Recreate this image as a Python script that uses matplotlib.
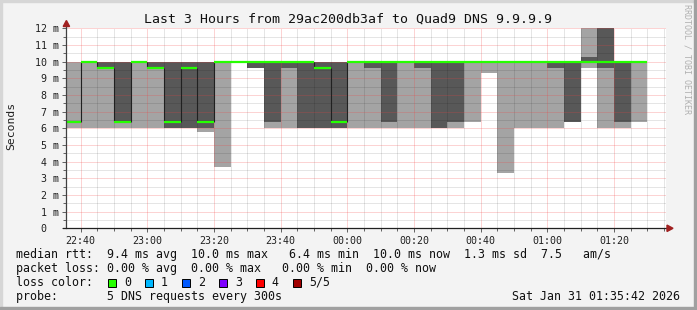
import numpy as np
import matplotlib.pyplot as plt
from matplotlib.patches import Rectangle, Polygon

# 5-minute slots (start time), sorted pings per slot in ms
slots = ["22:35", "22:40", "22:45", "22:50", "22:55", "23:00", "23:05", "23:10",
         "23:15", "23:20", "23:25", "23:30", "23:35", "23:40", "23:45", "23:50",
         "23:55", "00:00", "00:05", "00:10", "00:15", "00:20", "00:25", "00:30",
         "00:35", "00:40", "00:45", "00:50", "00:55", "01:00", "01:05", "01:10",
         "01:15", "01:20", "01:25"]
ping1 = [6.0, 6.0, 6.0, 6.0, 6.0, 6.0, 6.0, 6.0, 5.75, 3.7, 10.0, 9.6, 6.0, 6.0, 6.0, 6.0,
         6.0, 6.0, 6.0, 6.0, 6.0, 6.0, 6.0, 6.0, 6.4, 9.3, 3.3, 6.0, 6.0, 6.0, 6.4, 9.6,
         6.0, 6.0, 6.4]
ping2 = [6.4, 10.0, 9.6, 6.4, 10.0, 9.6, 6.0, 6.0, 6.0, 10.0, 10.0, 9.6, 6.4, 9.6, 6.0, 6.0,
         6.0, 10.0, 9.6, 6.4, 10.0, 9.6, 6.0, 6.4, 10.0, 10.0, 10.0, 10.0, 10.0, 9.6, 6.4, 10.0,
         9.6, 6.4, 10.0]
median = [6.4, 10.0, 9.6, 6.4, 10.0, 9.6, 6.4, 9.6, 6.4, 10.0, 10.0, 10.0, 10.0, 10.0, 10.0, 9.6,
          6.4, 10.0, 10.0, 10.0, 10.0, 10.0, 10.0, 10.0, 10.0, 10.0, 10.0, 10.0, 10.0, 10.0, 10.0, 10.0,
          10.0, 10.0, 10.0]
ping4 = [6.4, 10.0, 10.0, 10.0, 10.0, 10.0, 10.0, 10.0, 10.0, 10.0, 10.0, 10.0, 10.0, 10.0, 10.0, 10.0,
         10.0, 10.0, 10.0, 10.0, 10.0, 10.0, 10.0, 10.0, 10.0, 10.0, 10.0, 10.0, 10.0, 10.0, 10.0, 10.3,
         12.5, 10.0, 10.0]
ping5 = [10.0, 10.0, 10.0, 10.0, 10.0, 10.0, 10.0, 10.0, 10.0, 10.0, 10.0, 10.0, 10.0, 10.0, 10.0, 10.0,
         10.0, 10.0, 10.0, 10.0, 10.0, 10.0, 10.0, 10.0, 10.0, 10.0, 10.0, 10.0, 10.0, 10.0, 10.0, 12.5,
         12.5, 10.0, 10.0]

tick_times = ["22:40", "23:00", "23:20", "23:40", "00:00", "00:20", "00:40", "01:00", "01:20"]
loss_labels = ["0", "1", "2", "3", "4", "5/5"]
loss_colors = ["#26ff00", "#00b8ff", "#0059ff", "#7e00ff", "#ff0000", "#a00000"]

title = "Last 3 Hours from 29ac200db3af to Quad9 DNS 9.9.9.9"
line_rtt = "median rtt:  9.4 ms avg  10.0 ms max   6.4 ms min  10.0 ms now  1.3 ms sd  7.5   am/s"
line_loss = "packet loss: 0.00 % avg  0.00 % max   0.00 % min  0.00 % now"
line_probe = "probe:       5 DNS requests every 300s"
stamp = "Sat Jan 31 01:35:42 2026"


def minutes(s):
    h, m = map(int, s.split(":"))
    v = h * 60 + m - 22 * 60
    if h < 12:
        v += 24 * 60
    return v


t = np.array([minutes(s) for s in slots], dtype=float)
p1, p2, p3, p4, p5 = (np.array(a) for a in (ping1, ping2, median, ping4, ping5))
x_start = 35.7
x_end = 215.7

W, H = 697, 310
MONO = "DejaVu Sans Mono"


def px(x, y):
    return x / W, 1 - y / H


fig = plt.figure(figsize=(W / 100, H / 100), dpi=100, facecolor="#f3f3f3")
ax = fig.add_axes([66.4 / W, 1 - 228.3 / H, 600 / W, 200 / H])
ax.set_facecolor("white")

# smoke
ax.bar(t, p5 - p1, bottom=p1, width=5, align="edge", color="#a4a4a4", linewidth=0, zorder=1)
ax.bar(t, p4 - p2, bottom=p2, width=5, align="edge", color="#585858", linewidth=0, zorder=1.1)

ax.set_xlim(x_start, x_end)
ax.set_ylim(0, 12)

major_x = [minutes(s) for s in tick_times]
minor_x = [v for v in range(40, 216, 5) if v not in major_x]
major_y = list(range(1, 13))
minor_y = [v + 0.5 for v in range(0, 12)]

# dotted grid over the smoke, like rrdtool
dots = (0, (1, 1))
ax.vlines(minor_x, 0, 12, colors=[(0, 0, 0, 0.2)], lw=0.72, linestyles=[dots], zorder=2)
ax.hlines(minor_y, x_start, x_end, colors=[(0, 0, 0, 0.2)], lw=0.72, linestyles=[dots], zorder=2)
ax.vlines(major_x, 0, 12, colors=[(0.95, 0.25, 0.25, 0.45)], lw=0.72, linestyles=[dots], zorder=2.1)
ax.hlines(major_y, x_start, x_end, colors=[(0.95, 0.25, 0.25, 0.45)], lw=0.72, linestyles=[dots], zorder=2.1)

# median: vertical joins then green steps
for i in range(1, len(t)):
    if p3[i] != p3[i - 1]:
        ax.vlines(t[i], min(p3[i], p3[i - 1]), max(p3[i], p3[i - 1]), color="#202020", lw=0.8, zorder=3)
ax.hlines(p3, np.maximum(t, x_start), t + 5, color=loss_colors[0], lw=1.6, zorder=3.2)

ax.set_xticks(major_x)
ax.set_xticklabels(tick_times)
ax.set_xticks(np.arange(40, 216, 5), minor=True)
ax.set_yticks(np.arange(0, 13, 1))
ax.set_yticklabels(["0  "] + [f"{v} m" for v in range(1, 13)])
ax.set_yticks(np.arange(0.5, 12, 1), minor=True)

for sp in ax.spines.values():
    sp.set_visible(False)
ax.tick_params(which="both", direction="out", color="#606060", width=0.7)
ax.tick_params(which="major", length=3, labelsize=7.2, pad=2.5)
ax.tick_params(which="minor", length=2)
for lab in ax.get_xticklabels() + ax.get_yticklabels():
    lab.set_fontfamily(MONO)
    lab.set_color("#202020")

# axis lines with arrows
ax.plot([0, 0], [0, 1.025], transform=ax.transAxes, color="#404040", lw=0.9, clip_on=False, zorder=5)
ax.plot([-0.006, 1.006], [0, 0], transform=ax.transAxes, color="#202020", lw=0.9, clip_on=False, zorder=5)
fig.add_artist(Polygon([px(66.4, 20.5), px(63.2, 26.5), px(69.6, 26.5)], closed=True,
                       color="#a02020", transform=fig.transFigure))
fig.add_artist(Polygon([px(673, 228.3), px(667, 225.1), px(667, 231.5)], closed=True,
                       color="#a02020", transform=fig.transFigure))

# texts
fig.text(*px(348.5, 19), title, ha="center", va="center", fontsize=9.55, family=MONO, color="#101010")
fig.text(*px(11, 125.5), "Seconds", rotation=90, ha="center", va="center", fontsize=8.2, family=MONO,
         color="#202020")
fig.text(*px(687.5, 59), "RRDTOOL / TOBI OETIKER", rotation=270, ha="center", va="center",
         fontsize=6.0, family=MONO, color="#b0b0b0")

fs = 8.4
fig.text(*px(16, 254.5), line_rtt, ha="left", va="center", fontsize=fs, family=MONO, color="#101010")
fig.text(*px(16, 268.5), line_loss, ha="left", va="center", fontsize=fs, family=MONO, color="#101010")
fig.text(*px(16, 282.3), "loss color:", ha="left", va="center", fontsize=fs, family=MONO, color="#101010")
for k, (lab, col) in enumerate(zip(loss_labels, loss_colors)):
    x0 = 108.3 + 37 * k
    fig.add_artist(Rectangle(px(x0, 286.5), 8 / W, 8 / H, facecolor=col, edgecolor="black",
                             lw=0.7, transform=fig.transFigure))
    fig.text(*px(x0 + 15.5, 282.3), lab, ha="left", va="center", fontsize=fs, family=MONO, color="#101010")
fig.text(*px(16, 296.3), line_probe, ha="left", va="center", fontsize=fs, family=MONO, color="#101010")
fig.text(*px(680, 296.3), stamp, ha="right", va="center", fontsize=fs, family=MONO, color="#101010")

# frame
fig.add_artist(Rectangle(px(0, 2), 1, 2 / H, color="#d6d6d6", transform=fig.transFigure))
fig.add_artist(Rectangle(px(0, H), 2 / W, 1, color="#d6d6d6", transform=fig.transFigure))
fig.add_artist(Rectangle(px(694, H), 3 / W, 1, color="#a0a0a0", transform=fig.transFigure))
fig.add_artist(Rectangle(px(0, H), 1, 3 / H, color="#a0a0a0", transform=fig.transFigure))

fig.savefig("out.png", dpi=100, facecolor=fig.get_facecolor())
